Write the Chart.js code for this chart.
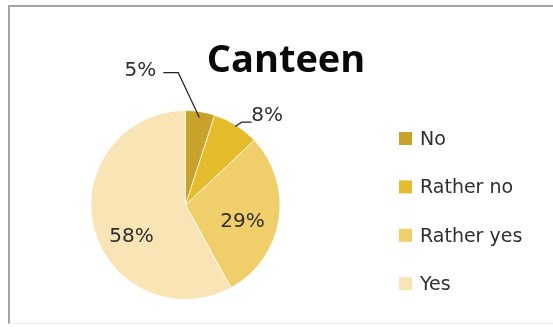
<!DOCTYPE html>
<html>
<head>
<meta charset="utf-8">
<script src="https://cdn.jsdelivr.net/npm/chart.js@4"></script>
<style>
  html, body { margin: 0; padding: 0; background: #fff; }
  #wrap { position: relative; width: 553px; height: 327px; overflow: hidden; }
  #frame {
    position: absolute; left: 8px; top: 5px; width: 600px; height: 316px;
    border-top: 2px solid #a3a3a3; border-left: 2px solid #a3a3a3;
    border-bottom: 1px solid #ececec;
  }
  canvas { position: absolute; left: 0; top: 0; }
</style>
</head>
<body>
<div id="wrap">
  <div id="frame"></div>
  <canvas id="c" width="553" height="327"></canvas>
</div>
<script>
// Survey answers about the canteen (share of respondents, %)
const categories = ['No', 'Rather no', 'Rather yes', 'Yes'];
const shares = [5, 8, 29, 58];
const sliceColors = ['#C8A22A', '#E4BC2C', '#F0CE6A', '#F8E4B4'];
const chartTitle = 'Canteen';

// Where each percentage label sits relative to its slice
// r: anchor radius as a fraction of the pie radius (on the slice's mid-angle)
// dx/dy: label centre x / baseline y relative to that anchor
// path: leader-line points relative to the anchor (drawn from just inside the edge)
const labelPlacement = [
  { r: 1.0, dx: -60, dy: -36, inset: 6, path: [[-22, -39], [-37, -39]] },
  { r: 1.0, dx: 31, dy: -4, inset: 1.5, path: [[5.5, -3], [15.5, -3]] },
  { r: 0.6, dx: 1, dy: 13 },
  { r: 0.6, dx: 1, dy: 23 }
];

const decorations = {
  id: 'decorations',
  afterDraw(chart) {
    const ctx = chart.ctx;
    const meta = chart.getDatasetMeta(0);
    const values = chart.data.datasets[0].data;
    const total = values.reduce((a, b) => a + b, 0);

    ctx.save();

    // Title
    ctx.fillStyle = '#0a0a0a';
    ctx.font = 'bold 38px "Open Sans"';
    ctx.textAlign = 'center';
    ctx.textBaseline = 'alphabetic';
    ctx.fillText(chartTitle, 286, 72);

    // Percentage labels
    ctx.font = '20px "DejaVu Sans"';
    ctx.fillStyle = '#2e2e2e';
    meta.data.forEach((arc, i) => {
      const p = labelPlacement[i];
      const mid = (arc.startAngle + arc.endAngle) / 2;
      const R = arc.outerRadius;
      const ax = arc.x + Math.cos(mid) * R * p.r;
      const ay = arc.y + Math.sin(mid) * R * p.r;
      const text = Math.round(values[i] / total * 100) + '%';
      ctx.fillText(text, ax + p.dx, ay + p.dy);
      if (p.path) {
        ctx.beginPath();
        ctx.strokeStyle = '#222';
        ctx.lineWidth = 1.2;
        ctx.moveTo(arc.x + Math.cos(mid) * (R - p.inset), arc.y + Math.sin(mid) * (R - p.inset));
        p.path.forEach(([px, py]) => ctx.lineTo(ax + px, ay + py));
        ctx.stroke();
      }
    });

    // Legend
    ctx.font = '19px "DejaVu Sans"';
    ctx.textAlign = 'left';
    chart.data.labels.forEach((label, i) => {
      const base = 145 + i * 48.4;
      ctx.fillStyle = chart.data.datasets[0].backgroundColor[i];
      ctx.fillRect(399, base - 13, 13, 13);
      ctx.fillStyle = '#2e2e2e';
      ctx.fillText(label, 420, base);
    });

    ctx.restore();
  }
};

new Chart(document.getElementById('c'), {
  type: 'pie',
  data: {
    labels: categories,
    datasets: [{
      data: shares,
      backgroundColor: sliceColors,
      borderColor: 'rgba(255,255,255,0.7)',
      borderWidth: 1
    }]
  },
  options: {
    responsive: false,
    devicePixelRatio: 1,
    animation: false,
    layout: { padding: { left: 90, right: 272, top: 110, bottom: 27 } },
    plugins: {
      legend: { display: false },
      title: { display: false },
      tooltip: { enabled: false }
    }
  },
  plugins: [decorations]
});
</script>
</body>
</html>
